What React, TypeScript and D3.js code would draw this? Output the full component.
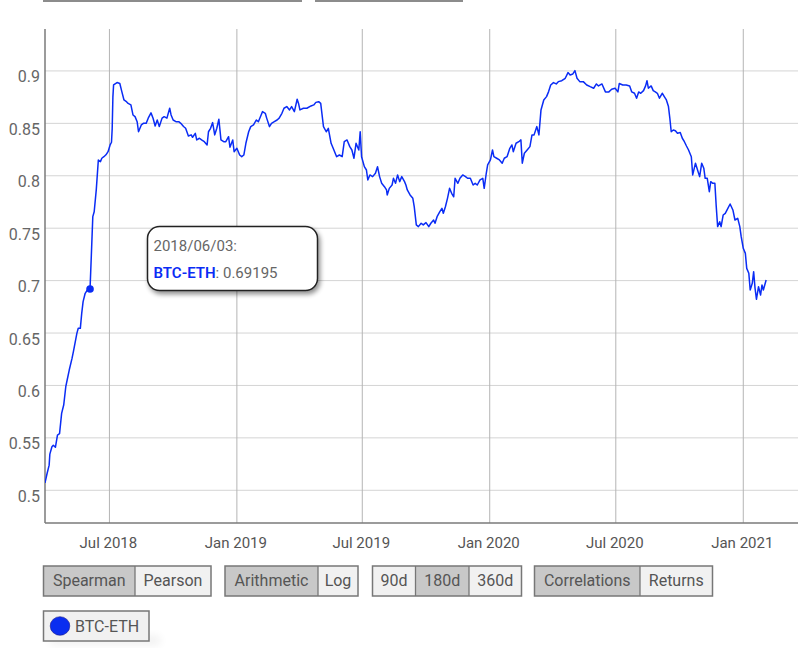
import React from "react";
import * as d3 from "d3";

const startDate = new Date(2018, 2, 30);
const endDate = new Date(2021, 2, 21);

// days since 2018-03-30
const dayOffsets = [
  0, 3, 6, 7, 10, 12, 15, 18, 21, 24, 27, 30, 32, 35, 39, 41, 46, 48, 51, 53, 55, 58, 61, 65, 67, 69, 71, 74, 77, 80,
  82, 85, 88, 91, 94, 96, 97, 98, 99, 104, 108, 111, 114, 117, 120, 124, 127, 130, 133, 135, 139, 142, 146, 149, 153, 156, 159, 162, 165, 169,
  172, 176, 180, 182, 185, 189, 193, 196, 200, 203, 207, 211, 213, 217, 219, 223, 226, 230, 234, 236, 239, 242, 245, 248, 251, 254, 258, 261, 265, 267,
  271, 273, 277, 281, 284, 287, 290, 294, 297, 301, 305, 308, 312, 314, 318, 320, 324, 327, 331, 335, 338, 342, 345, 349, 353, 356, 360, 364, 366, 368,
  373, 378, 384, 388, 391, 395, 398, 402, 406, 409, 413, 416, 421, 425, 429, 432, 436, 440, 443, 446, 449, 453, 455, 457, 461, 464, 466, 469, 473, 477,
  480, 483, 486, 490, 493, 494, 497, 501, 503, 506, 509, 512, 515, 519, 521, 523, 527, 531, 533, 536, 539, 543, 546, 550, 554, 557, 561, 563, 566, 570,
  573, 575, 578, 581, 584, 587, 590, 592, 596, 599, 603, 607, 610, 614, 618, 621, 624, 628, 632, 634, 637, 639, 643, 646, 648, 652, 656, 660, 663, 667,
  671, 674, 676, 680, 684, 687, 689, 692, 696, 700, 703, 706, 710, 713, 716, 720, 724, 727, 730, 734, 738, 741, 746, 751, 755, 758, 762, 765, 768, 772,
  777, 782, 787, 792, 796, 799, 804, 809, 814, 818, 823, 827, 829, 834, 839, 844, 847, 851, 854, 857, 860, 864, 867, 869, 871, 875, 878, 881, 884, 887,
  891, 894, 897, 900, 902, 904, 907, 910, 913, 917, 920, 923, 926, 929, 933, 935, 939, 942, 945, 948, 951, 953, 956, 959, 961, 964, 967, 969, 971, 974,
  976, 979, 982, 985, 989, 993, 996, 1000, 1003, 1005, 1008, 1011, 1013, 1016, 1018, 1021, 1023, 1025, 1027, 1030, 1033, 1035, 1037, 1041,
];

const btcEthValues = [
  0.507, 0.516, 0.524, 0.5345, 0.5415, 0.543, 0.541, 0.5527, 0.554, 0.5734, 0.5813, 0.5988, 0.6052, 0.6147, 0.6258, 0.6322, 0.6497, 0.6545, 0.6545, 0.6688, 0.68, 0.6879, 0.691, 0.69195, 0.726, 0.761, 0.7657, 0.7865, 0.815, 0.8135,
  0.8167, 0.8182, 0.82, 0.823, 0.8294, 0.832, 0.845, 0.875, 0.8866, 0.8889, 0.888, 0.88, 0.8723, 0.871, 0.869, 0.8676, 0.858, 0.8564, 0.8516, 0.842, 0.8485, 0.85, 0.85, 0.8549, 0.86, 0.8549, 0.8475, 0.8532, 0.8469, 0.855,
  0.8564, 0.855, 0.8644, 0.858, 0.8532, 0.8516, 0.8516, 0.85, 0.847, 0.8453, 0.838, 0.839, 0.8367, 0.8405, 0.8342, 0.8358, 0.8342, 0.8325, 0.8294, 0.842, 0.8453, 0.8507, 0.839, 0.8453, 0.8539, 0.8342, 0.8325, 0.8325, 0.8373, 0.8272,
  0.8342, 0.823, 0.8262, 0.8198, 0.8182, 0.8198, 0.831, 0.842, 0.8469, 0.8485, 0.8532, 0.8516, 0.858, 0.8612, 0.8596, 0.855, 0.8469, 0.85, 0.8516, 0.8532, 0.855, 0.8596, 0.8644, 0.866, 0.8628, 0.866, 0.8612, 0.873, 0.869, 0.8628,
  0.8644, 0.8644, 0.8666, 0.8676, 0.87, 0.8707, 0.869, 0.8469, 0.842, 0.8453, 0.831, 0.8262, 0.8182, 0.8198, 0.8182, 0.8325, 0.8342, 0.8278, 0.8246, 0.8167, 0.831, 0.8246, 0.842, 0.8182, 0.8087, 0.8055, 0.796, 0.8008, 0.7992, 0.8024,
  0.8087, 0.7992, 0.7928, 0.7896, 0.7865, 0.7817, 0.788, 0.7912, 0.7976, 0.7928, 0.8008, 0.7944, 0.7992, 0.7944, 0.7912, 0.7865, 0.7817, 0.7785, 0.7705, 0.7531, 0.7515, 0.7547, 0.7531, 0.7553, 0.7515, 0.7547, 0.7578, 0.7547, 0.761, 0.7657,
  0.769, 0.7642, 0.7705, 0.7785, 0.788, 0.7833, 0.78, 0.7976, 0.7928, 0.7976, 0.8008, 0.7992, 0.7976, 0.7976, 0.7912, 0.7928, 0.7912, 0.796, 0.7976, 0.788, 0.8024, 0.8103, 0.8151, 0.8246, 0.8182, 0.8167, 0.8151, 0.812, 0.8167, 0.8182,
  0.8262, 0.8294, 0.823, 0.831, 0.8325, 0.8342, 0.812, 0.8215, 0.8246, 0.8278, 0.839, 0.839, 0.8469, 0.839, 0.8628, 0.8723, 0.8755, 0.8803, 0.8866, 0.8889, 0.8876, 0.8898, 0.8907, 0.893, 0.8984, 0.8962, 0.8971, 0.9003, 0.893, 0.8898,
  0.8898, 0.8866, 0.885, 0.8835, 0.8876, 0.8857, 0.8876, 0.88, 0.88, 0.8825, 0.8835, 0.88, 0.888, 0.8866, 0.8866, 0.8857, 0.88, 0.8787, 0.874, 0.88, 0.8787, 0.8812, 0.8857, 0.8907, 0.8835, 0.8857, 0.8812, 0.88, 0.8787, 0.874,
  0.8787, 0.8755, 0.8723, 0.866, 0.8549, 0.842, 0.8437, 0.843, 0.8405, 0.8412, 0.8358, 0.8325, 0.8284, 0.8246, 0.8182, 0.8008, 0.812, 0.8055, 0.7992, 0.812, 0.8072, 0.7976, 0.7976, 0.7848, 0.7944, 0.7928, 0.7928, 0.7705, 0.7515, 0.7562,
  0.7515, 0.7626, 0.7642, 0.768, 0.7731, 0.7674, 0.7578, 0.7594, 0.7515, 0.7419, 0.7308, 0.726, 0.7117, 0.707, 0.691, 0.6974, 0.7085, 0.6927, 0.6822, 0.6942, 0.6863, 0.6958, 0.691, 0.7006,
];

const yTicks = [0.5, 0.55, 0.6, 0.65, 0.7, 0.75, 0.8, 0.85, 0.9];
const yTickLabels = ["0.5", "0.55", "0.6", "0.65", "0.7", "0.75", "0.8", "0.85", "0.9"];
const xTickDates = [
  new Date(2018, 6, 1),
  new Date(2019, 0, 1),
  new Date(2019, 6, 1),
  new Date(2020, 0, 1),
  new Date(2020, 6, 1),
  new Date(2021, 0, 1),
];
const xTickLabels = ["Jul 2018", "Jan 2019", "Jul 2019", "Jan 2020", "Jul 2020", "Jan 2021"];

const seriesName = "BTC-ETH";
const highlightDay = 65;
const highlightLabel = "2018/06/03:";
const highlightValue = "0.69195";

const buttonGroups = [
  { labels: ["Spearman", "Pearson"], active: 0, edges: [43.5, 135, 211] },
  { labels: ["Arithmetic", "Log"], active: 0, edges: [225, 318, 358] },
  { labels: ["90d", "180d", "360d"], active: 1, edges: [372.5, 415.5, 469, 521.5] },
  { labels: ["Correlations", "Returns"], active: 0, edges: [534.5, 640, 712.5] },
];

const BLUE = "#0a2cf5";
const FONT = "Roboto, 'Noto Sans', sans-serif";

const toDate = (d: number) => new Date(2018, 2, 30 + d);

export default function App() {
  const W = 798;
  const H = 648;
  const left = 45;
  const right = 798;
  const top = 29;
  const bottom = 523;

  const x = d3.scaleTime().domain([startDate, endDate]).range([left, right]);
  const y = d3.scaleLinear().domain([0.4688, 0.94]).range([bottom, top]);

  const data = dayOffsets.map((d, i) => ({ date: toDate(d), v: btcEthValues[i] }));
  const line = d3
    .line<{ date: Date; v: number }>()
    .x((p) => x(p.date))
    .y((p) => y(p.v));

  const hi = data[dayOffsets.indexOf(highlightDay)];
  const hx = x(hi.date);
  const hy = y(hi.v);

  return (
    <div style={{ position: "absolute", left: 0, top: 0, width: W, height: H, background: "#fff" }}>
      <svg width={W} height={H} style={{ display: "block" }}>
        <defs>
          <filter id="shadow" x="-20%" y="-20%" width="150%" height="160%">
            <feGaussianBlur in="SourceAlpha" stdDeviation="2.5" />
            <feOffset dx="2" dy="3" result="b" />
            <feComponentTransfer>
              <feFuncA type="linear" slope="0.45" />
            </feComponentTransfer>
            <feMerge>
              <feMergeNode />
              <feMergeNode in="SourceGraphic" />
            </feMerge>
          </filter>
          <clipPath id="plot">
            <rect x={left} y={top} width={right - left} height={bottom - top} />
          </clipPath>
        </defs>

        {/* remnants of controls above the chart */}
        <rect x={43} y={0} width={259} height={2} fill="#8c8c8c" />
        <rect x={315} y={0} width={148} height={2} fill="#8c8c8c" />

        {/* horizontal gridlines */}
        {yTicks.map((t) => (
          <line key={"hy" + t} x1={left} x2={right} y1={y(t)} y2={y(t)} stroke="#d4d4d4" strokeWidth={1} />
        ))}
        {/* vertical gridlines */}
        {xTickDates.map((t, i) => (
          <line key={"vx" + i} x1={x(t)} x2={x(t)} y1={top} y2={bottom} stroke="#b4b4b4" strokeWidth={1} />
        ))}

        {/* axes */}
        <line x1={left} x2={left} y1={top} y2={bottom} stroke="#7a7a7a" strokeWidth={1.5} />
        <line x1={left} x2={right} y1={bottom} y2={bottom} stroke="#7a7a7a" strokeWidth={1.5} />

        {/* y labels */}
        {yTicks.map((t, i) => (
          <text key={"yl" + t} x={40} y={y(t) + 11.5} textAnchor="end" fontFamily={FONT} fontSize={16} fill="#666">
            {yTickLabels[i]}
          </text>
        ))}
        {/* x labels */}
        {xTickDates.map((t, i) => (
          <text key={"xl" + i} x={x(t) - 1} y={548} textAnchor="middle" fontFamily={FONT} fontSize={15} fill="#555">
            {xTickLabels[i]}
          </text>
        ))}

        {/* series */}
        <path d={line(data) || ""} fill="none" stroke={BLUE} strokeWidth={1.5} strokeLinejoin="round" clipPath="url(#plot)" />
        <circle cx={hx} cy={hy} r={3.8} fill={BLUE} />

        {/* tooltip */}
        <g filter="url(#shadow)">
          <rect x={147.5} y={226.5} width={170} height={64} rx={12} ry={12} fill="#fff" stroke="#222" strokeWidth={1.5} />
        </g>
        <text x={153.5} y={250.5} fontFamily={FONT} fontSize={15} fill="#666">
          {highlightLabel}
        </text>
        <text x={153.5} y={277.5} fontFamily={FONT} fontSize={15} fill="#666">
          <tspan fill={BLUE} fontWeight={600}>{seriesName}</tspan>
          <tspan>: {highlightValue}</tspan>
        </text>

        {/* button groups */}
        {buttonGroups.map((g, gi) => (
          <g key={"bg" + gi}>
            {g.labels.map((lab, li) => {
              const x0 = g.edges[li];
              const x1 = g.edges[li + 1];
              return (
                <g key={lab}>
                  <rect x={x0} y={566} width={x1 - x0} height={30} fill={li === g.active ? "#c8c8c8" : "#f1f1f1"} />
                  <text x={(x0 + x1) / 2} y={586} textAnchor="middle" fontFamily={FONT} fontSize={16} fill="#555">
                    {lab}
                  </text>
                </g>
              );
            })}
            {g.edges.slice(1, -1).map((e, k) => (
              <line key={"d" + k} x1={e} x2={e} y1={566} y2={596} stroke="#777" strokeWidth={1.3} />
            ))}
            <rect
              x={g.edges[0]}
              y={566}
              width={g.edges[g.edges.length - 1] - g.edges[0]}
              height={30}
              fill="none"
              stroke="#777"
              strokeWidth={1.5}
            />
          </g>
        ))}

        {/* legend */}
        <rect x={50} y={636} width={110} height={9} fill="#000" opacity={0.06} style={{ filter: "blur(4px)" }} />
        <rect x={43.5} y={611} width={105.5} height={30} fill="#f1f1f1" stroke="#777" strokeWidth={1.5} />
        <ellipse cx={60} cy={626} rx={9.8} ry={9.3} fill="#0a2ef0" stroke="#1a1a8a" strokeWidth={0.6} />
        <text x={75} y={632} fontFamily={FONT} fontSize={16} fill="#555">
          {seriesName}
        </text>
      </svg>
    </div>
  );
}
